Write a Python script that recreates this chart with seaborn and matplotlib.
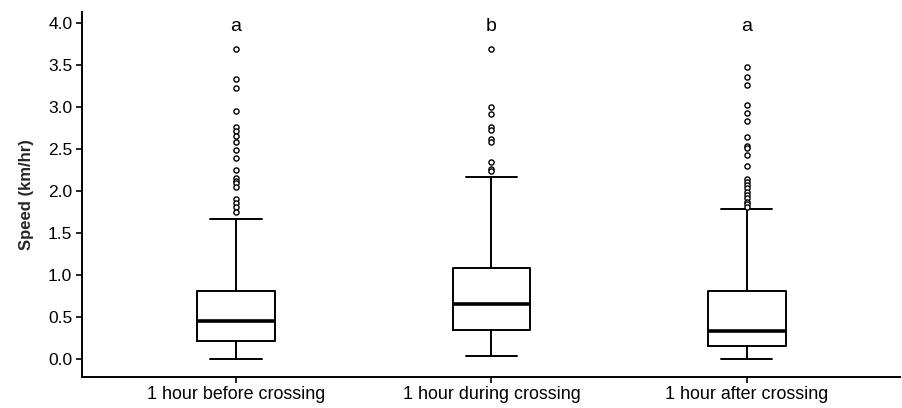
import matplotlib
matplotlib.use("Agg")
import matplotlib.pyplot as plt
import seaborn as sns
import pandas as pd
from matplotlib import font_manager

# ---- data ----
categories = ["1 hour before crossing", "1 hour during crossing", "1 hour after crossing"]
whisker_low = [0.00, 0.04, 0.00]
q1 = [0.21, 0.34, 0.15]
median = [0.45, 0.66, 0.33]
q3 = [0.81, 1.08, 0.81]
whisker_high = [1.67, 2.17, 1.79]
outliers_before = [3.69, 3.33, 3.22, 2.95, 2.76, 2.71, 2.65, 2.58, 2.49, 2.39, 2.25,
                   2.15, 2.12, 2.09, 2.05, 1.90, 1.86, 1.81, 1.75]
outliers_during = [3.69, 3.00, 2.92, 2.76, 2.72, 2.62, 2.58, 2.34, 2.26, 2.24]
outliers_after = [3.47, 3.35, 3.26, 3.02, 2.93, 2.83, 2.64, 2.54, 2.51, 2.43, 2.30,
                  2.14, 2.11, 2.07, 2.03, 1.99, 1.95, 1.92, 1.87, 1.84, 1.81]
letters = ["a", "b", "a"]
yticks = [0.0, 0.5, 1.0, 1.5, 2.0, 2.5, 3.0, 3.5, 4.0]
ylabel = "Speed (km/hr)"

sns.set_style("ticks")
plt.rcParams["font.family"] = ["Liberation Sans", "DejaVu Sans"]

installed = {f.name for f in font_manager.fontManager.ttflist}
if "Liberation Sans Narrow" in installed:
    xfam, xsize = ["Liberation Sans Narrow", "Liberation Sans"], 15.5
else:
    xfam, xsize = ["Liberation Sans", "DejaVu Sans"], 12.9

fig = plt.figure(figsize=(9.02, 4.08), dpi=100)
ax = fig.add_axes([0.0909, 0.0767, 0.9071, 0.8943])

# outliers through seaborn's categorical axis
out_lists = [outliers_before, outliers_during, outliers_after]
rows = []
for cat, vals in zip(categories, out_lists):
    for v in vals:
        rows.append({"group": cat, "speed": v})
df_out = pd.DataFrame(rows)
sns.stripplot(data=df_out, x="group", y="speed", order=categories, jitter=False,
              color="white", edgecolor="black", linewidth=1.0, size=3.7,
              marker="o", ax=ax, zorder=3)

# boxes from summary statistics
stats = []
for i, cat in enumerate(categories):
    stats.append({"label": cat, "whislo": whisker_low[i], "q1": q1[i], "med": median[i],
                  "q3": q3[i], "whishi": whisker_high[i], "fliers": []})
ax.bxp(stats, positions=range(len(categories)), widths=0.305, capwidths=0.2,
       showfliers=False, patch_artist=False,
       boxprops=dict(color="black", linewidth=1.4),
       whiskerprops=dict(color="black", linewidth=1.4),
       capprops=dict(color="black", linewidth=1.4),
       medianprops=dict(color="black", linewidth=2.6))

for i, lab in enumerate(letters):
    ax.text(i, 3.90, lab, ha="center", va="baseline", fontsize=14, color="black")

ax.set_xlim(-0.603, 2.6)
ax.set_ylim(-0.21, 4.13)
ax.set_yticks(yticks)
ax.set_yticklabels([f"{t:.1f}" for t in yticks], fontsize=12.5)
ax.set_xticks(range(len(categories)))
ax.set_xticklabels(categories, fontsize=xsize, family=xfam)
ax.set_xlabel("")
ax.set_ylabel(ylabel, fontsize=12, fontweight="bold", labelpad=10)
ax.tick_params(axis="both", direction="out", length=4, width=1.2, colors="black", pad=3)
sns.despine(ax=ax)
for s in ["left", "bottom"]:
    ax.spines[s].set_linewidth(1.4)
    ax.spines[s].set_color("black")

fig.savefig("out.png", dpi=100)
